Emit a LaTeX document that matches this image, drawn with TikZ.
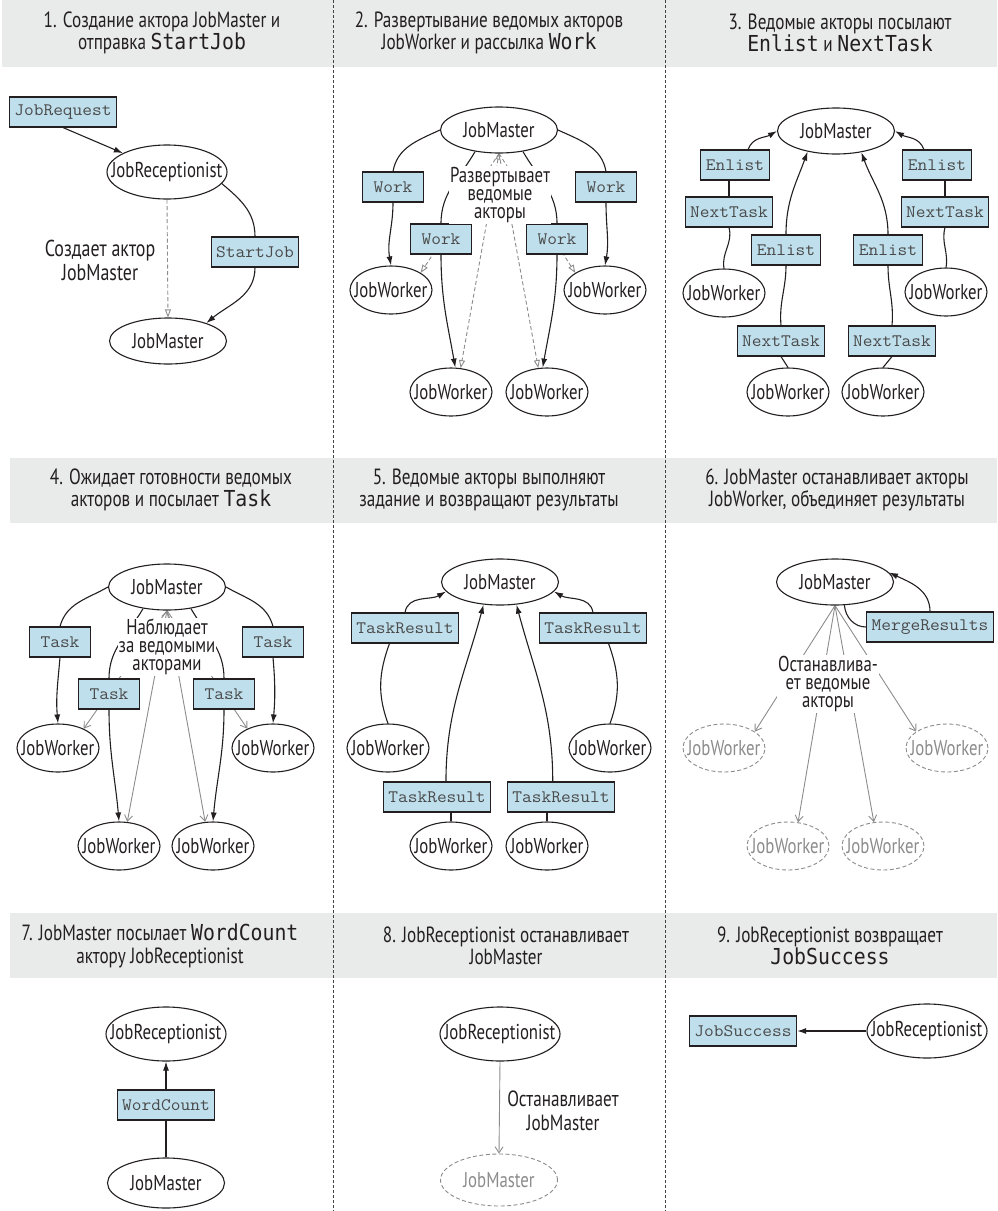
\documentclass[tikz,border=0pt]{standalone}
\usepackage{fontspec}
\setmainfont{PT Sans}[FakeStretch=0.78]
\newfontfamily\boxmono{Latin Modern Mono}[FakeStretch=1.08]
\newfontfamily\titlemono{DejaVu Sans Mono}[FakeStretch=0.9]
\usetikzlibrary{arrows.meta,shapes.geometric}

\definecolor{band}{HTML}{E9EAEA}
\definecolor{msgfill}{HTML}{BFDFEC}
\definecolor{ink}{HTML}{231F20}
\definecolor{msgink}{HTML}{4A4A4A}
\definecolor{dim}{HTML}{8C8C8C}

% actor names are allowed to run over the outline of their oval
\newcommand\nm[1]{\makebox[0pt][c]{#1}}
\newcommand\code[1]{{\titlemono #1}}

\pgfdeclarelayer{bands}
\pgfdeclarelayer{links}
\pgfsetlayers{bands,links,main}

\tikzset{
  actor/.style={ellipse, draw=ink, line width=1.1pt, fill=white, inner sep=0pt,
    text=ink, font=\fontsize{21.5}{22}\selectfont},
  jmsize/.style={minimum width=117pt, minimum height=46pt},
  jrsize/.style={minimum width=120pt, minimum height=54pt},
  jwsize/.style={minimum width=82pt, minimum height=48pt},
  stopped/.style={draw=dim, dash pattern=on 4pt off 2.5pt, text=dim, line width=0.9pt},
  msg/.style={rectangle, draw=ink, line width=1.1pt, fill=msgfill, text=msgink,
    font=\boxmono\fontsize{17.5}{18}\selectfont, inner xsep=5pt, inner ysep=0pt,
    minimum height=30pt, minimum width=61pt},
  note/.style={fill=white, inner sep=1pt, align=center, text=ink,
    font=\fontsize{21.5}{18}\selectfont},
  widenote/.style={align=center, text=ink, inner sep=1pt, font=\fontsize{23}{24}\selectfont},
  title/.style={align=center, text=ink, font=\fontsize{22}{22.5}\selectfont},
  link/.style={draw=ink, line width=1.1pt},
  send/.style={link, -{Latex[length=9pt,width=6pt]}},
  spawn/.style={draw=dim, line width=0.9pt, dash pattern=on 4pt off 2.5pt,
    -{Triangle[open,length=8pt,width=6pt]}},
  watch/.style={draw=dim, line width=0.9pt, -{Straight Barb[length=6pt,width=8pt]}},
  divider/.style={draw=ink!85, line width=0.9pt, dash pattern=on 3pt off 2pt},
}

\begin{document}
\begin{tikzpicture}[x=1pt,y=1pt]
\useasboundingbox (0,0) rectangle (997,-1211);

% title bands and column dividers
\begin{pgfonlayer}{bands}
  \fill[band] (2,0) rectangle (997,-67);
  \fill[band] (10,-458) rectangle (997,-523);
  \fill[band] (10,-913) rectangle (997,-978);
  \draw[divider] (333,0) -- (333,-1211);
  \draw[divider] (665,0) -- (665,-1211);
\end{pgfonlayer}

% titles
\node[title] (t1) at (162,-33) {1. Создание актора JobMaster и\\отправка \code{StartJob}};
\node[title] (t2) at (489,-33) {2. Развертывание ведомых акторов\\JobWorker и рассылка \code{Work}};
\node[title] (t3) at (840,-33) {3. Ведомые акторы посылают\\\code{Enlist} и \code{NextTask}};
\node[title] (t4) at (171,-490) {4. Ожидает готовности ведомых\\акторов и посылает \code{Task}};
\node[title] (t5) at (489,-490) {5. Ведомые акторы выполняют\\задание и возвращают результаты};
\node[title] (t6) at (837,-490) {6. JobMaster останавливает акторы\\JobWorker, объединяет результаты};
\node[title] (t7) at (160,-946) {7. JobMaster посылает \code{WordCount}\\актору JobReceptionist};
\node[title] (t8) at (506,-946) {8. JobReceptionist останавливает\\JobMaster};
\node[title] (t9) at (830,-946) {9. JobReceptionist возвращает\\\code{JobSuccess}};

% 1: receptionist creates the master
\node[msg] (req1) at (63,-112) {JobRequest};
\node[actor,jrsize] (rec1) at (167,-172) {\nm{JobReceptionist}};
\node[actor,jmsize] (jm1) at (168,-341) {\nm{JobMaster}};
\node[msg] (sj1) at (255,-252) {StartJob};
\node[widenote] (n1) at (100,-260) {Создает актор\\JobMaster};

% 2: master spawns workers
\node[actor,jmsize] (jm2) at (499,-130) {\nm{JobMaster}};
\node[msg] (w2a) at (393,-187) {Work};
\node[msg] (w2b) at (606,-187) {Work};
\node[msg] (w2c) at (441,-239) {Work};
\node[msg] (w2d) at (557,-239) {Work};
\node[actor,jwsize] (jw2a) at (391,-290) {\nm{JobWorker}};
\node[actor,jwsize] (jw2b) at (605,-290) {\nm{JobWorker}};
\node[actor,jwsize] (jw2c) at (451,-392) {\nm{JobWorker}};
\node[actor,jwsize] (jw2d) at (547,-392) {\nm{JobWorker}};
\node[note] (n2) at (500,-195) {Развертывает\\ведомые\\акторы};

% 3: workers enlist
\node[actor,jmsize] (jm3) at (836,-131) {\nm{JobMaster}};
\node[msg] (en3a) at (735,-165) {Enlist};
\node[msg] (en3b) at (937,-165) {Enlist};
\node[msg] (en3c) at (786,-250) {Enlist};
\node[msg] (en3d) at (888,-250) {Enlist};
\node[msg] (nt3a) at (729,-212) {NextTask};
\node[msg] (nt3b) at (945,-212) {NextTask};
\node[msg] (nt3c) at (781,-341) {NextTask};
\node[msg] (nt3d) at (892,-341) {NextTask};
\node[actor,jwsize] (jw3a) at (724,-293) {\nm{JobWorker}};
\node[actor,jwsize] (jw3b) at (946,-292) {\nm{JobWorker}};
\node[actor,jwsize] (jw3c) at (788,-392) {\nm{JobWorker}};
\node[actor,jwsize] (jw3d) at (883,-392) {\nm{JobWorker}};

% 4: master hands out tasks
\node[actor,jmsize] (jm4) at (167,-587) {\nm{JobMaster}};
\node[msg] (t4a) at (60,-642) {Task};
\node[msg] (t4b) at (273,-642) {Task};
\node[msg] (t4c) at (109,-694) {Task};
\node[msg] (t4d) at (224,-694) {Task};
\node[actor,jwsize] (jw4a) at (58,-748) {\nm{JobWorker}};
\node[actor,jwsize] (jw4b) at (273,-748) {\nm{JobWorker}};
\node[actor,jwsize] (jw4c) at (119,-846) {\nm{JobWorker}};
\node[actor,jwsize] (jw4d) at (213,-846) {\nm{JobWorker}};
\node[note] (n4) at (167,-647) {Наблюдает\\за ведомыми\\акторами};

% 5: workers report results
\node[actor,jmsize] (jm5) at (500,-582) {\nm{JobMaster}};
\node[msg] (tr5a) at (405,-628) {TaskResult};
\node[msg] (tr5b) at (593,-628) {TaskResult};
\node[msg] (tr5c) at (437,-797) {TaskResult};
\node[msg] (tr5d) at (561,-797) {TaskResult};
\node[actor,jwsize] (jw5a) at (388,-748) {\nm{JobWorker}};
\node[actor,jwsize] (jw5b) at (610,-748) {\nm{JobWorker}};
\node[actor,jwsize] (jw5c) at (451,-846) {\nm{JobWorker}};
\node[actor,jwsize] (jw5d) at (547,-846) {\nm{JobWorker}};

% 6: master stops workers and merges
\node[actor,jmsize] (jm6) at (835,-582) {\nm{JobMaster}};
\node[msg] (mr6) at (930,-627) {MergeResults};
\node[actor,jwsize,stopped] (jw6a) at (724,-748) {\nm{JobWorker}};
\node[actor,jwsize,stopped] (jw6b) at (947,-748) {\nm{JobWorker}};
\node[actor,jwsize,stopped] (jw6c) at (788,-846) {\nm{JobWorker}};
\node[actor,jwsize,stopped] (jw6d) at (883,-846) {\nm{JobWorker}};
\node[note] (n6) at (828,-684) {Останавлива-\\ет ведомые\\акторы};

% 7: word count goes back
\node[actor,jrsize] (rec7) at (166,-1034) {\nm{JobReceptionist}};
\node[msg] (wc7) at (166,-1105) {WordCount};
\node[actor,jmsize,minimum height=50pt] (jm7) at (166,-1183) {\nm{JobMaster}};

% 8: receptionist stops the master
\node[actor,jrsize] (rec8) at (500,-1034) {\nm{JobReceptionist}};
\node[actor,jmsize,minimum height=52pt,stopped] (jm8) at (499,-1180) {\nm{JobMaster}};
\node[widenote, font=\fontsize{22}{24}\selectfont] (n8) at (563,-1111) {Останавливает\\JobMaster};

% 9: success reply
\node[actor,jrsize] (rec9) at (927,-1031) {\nm{JobReceptionist}};
\node[msg] (js9) at (743,-1031) {JobSuccess};

\begin{pgfonlayer}{links}
  % 1
  \draw[send] (req1.south) -- (rec1);
  \draw[spawn] (rec1.south) -- (jm1.north);
  \draw[link] (rec1.-12) to[out=-40,in=90] (sj1.north);
  \draw[send] (sj1.south) to[out=-90,in=40] (jm1.25);
  % 2
  \draw[link] (jm2.west) to[out=205,in=80] (w2a.north);
  \draw[send] (w2a.south) to[out=-90,in=100] (jw2a.north);
  \draw[link] (jm2.east) to[out=-25,in=100] (w2b.north);
  \draw[send] (w2b.south) to[out=-90,in=80] (jw2b.north);
  \draw[link] (jm2.222) to[out=240,in=90] (w2c.north);
  \draw[send] (w2c.south) to[out=-90,in=100] (jw2c.80);
  \draw[link] (jm2.-42) to[out=-60,in=90] (w2d.north);
  \draw[send] (w2d.south) to[out=-90,in=80] (jw2d.100);
  \draw[spawn] (jm2.south) -- (jw2a.30);
  \draw[spawn] (jm2.south) -- (jw2b.150);
  \draw[spawn, {Triangle[open,length=6pt,width=5pt]}-{Triangle[open,length=8pt,width=6pt]}]
    (jm2.south) -- (jw2c.68);
  \draw[spawn] (jm2.south) -- (jw2d.110);
  % 3
  \draw[link] (jw3a.north) to[out=100,in=-75] (nt3a.south);
  \draw[link] (nt3a.north) -- (nt3a.north |- en3a.south);
  \draw[send] (en3a.50) to[out=70,in=210] (jm3.west);
  \draw[link] (jw3c.north) -- (nt3c.south);
  \draw[link] (nt3c.north) to[out=95,in=-90] (en3c.south);
  \draw[send] (en3c.north) to[out=90,in=250] (jm3.216);
  \draw[link] (jw3b.north) to[out=80,in=-105] (nt3b.south);
  \draw[link] (nt3b.north) -- (nt3b.north |- en3b.south);
  \draw[send] (en3b.130) to[out=110,in=-30] (jm3.east);
  \draw[link] (jw3d.north) -- (nt3d.south);
  \draw[link] (nt3d.north) to[out=85,in=-90] (en3d.south);
  \draw[send] (en3d.north) to[out=90,in=-70] (jm3.-40);
  % 4
  \draw[link] (jm4.west) to[out=210,in=75] (t4a.north);
  \draw[send] (t4a.south) to[out=-95,in=95] (jw4a.north);
  \draw[link] (jm4.east) to[out=-30,in=105] (t4b.north);
  \draw[send] (t4b.south) to[out=-85,in=85] (jw4b.north);
  \draw[link] (jm4.222) to[out=240,in=90] (t4c.north);
  \draw[send] (t4c.south) to[out=-90,in=95] (jw4c.north);
  \draw[link] (jm4.-42) to[out=-60,in=90] (t4d.north);
  \draw[send] (t4d.south) to[out=-90,in=85] (jw4d.north);
  \draw[watch] (jm4.south) -- (jw4a.37);
  \draw[watch] (jm4.south) -- (jw4b.143);
  \draw[watch, {Straight Barb[length=6pt,width=8pt]}-{Straight Barb[length=6pt,width=8pt]}]
    (jm4.south) -- (jw4c.71);
  \draw[watch] (jm4.south) -- (jw4d.108);
  % 5
  \draw[link] (jw5a.north) to[out=110,in=-110] (tr5a.-135);
  \draw[send] (tr5a.north) to[out=80,in=210] (jm5.190);
  \draw[link] (jw5b.north) to[out=70,in=-70] (tr5b.-45);
  \draw[send] (tr5b.north) to[out=100,in=-30] (jm5.-10);
  \draw[link] (jw5c.north) -- (jw5c.north |- tr5c.south);
  \draw[send] (tr5c.60) to[out=90,in=255] (jm5.234);
  \draw[link] (jw5d.north) -- (jw5d.north |- tr5d.south);
  \draw[send] (tr5d.118) to[out=90,in=-75] (jm5.-54);
  % 6
  \draw[link] (jm6.-68) to[out=-85,in=180] (mr6.west);
  \draw[send] (mr6.north) to[out=90,in=-25] (jm6.10);
  \draw[watch] (jm6.south) -- (jw6a.28);
  \draw[watch] (jm6.south) -- (jw6b.152);
  \draw[watch] (jm6.south) -- (jw6c.67);
  \draw[watch] (jm6.south) -- (jw6d.111);
  % 7
  \draw[link] (jm7.north) -- (wc7.south);
  \draw[send] (wc7.north) -- (rec7.south);
  % 8
  \draw[watch] (rec8.south) -- (jm8.north);
  % 9
  \draw[send] (rec9.west) -- (js9.east);
\end{pgfonlayer}
\end{tikzpicture}
\end{document}
